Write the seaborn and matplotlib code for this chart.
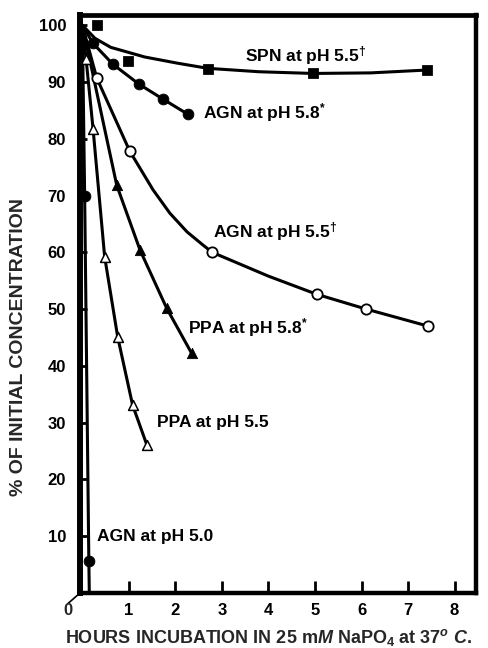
import matplotlib
matplotlib.use("Agg")
import matplotlib.pyplot as plt
import seaborn as sns

# hours of incubation vs % of initial concentration
spn_x = [0.31, 0.98, 2.7, 4.96, 7.4]
spn_y = [100, 93.7, 92.3, 91.5, 92.1]
spn_fit_x = [0, 0.27, 0.61, 1.34, 2.05, 2.7, 3.8, 4.96, 6.2, 7.4]
spn_fit_y = [100, 97.7, 96.1, 94.4, 93.3, 92.4, 91.8, 91.5, 91.6, 92.1]

agn58_x = [0.23, 0.66, 1.22, 1.73, 2.27]
agn58_y = [96.8, 93.1, 89.6, 87.0, 84.3]

agn55_x = [0.31, 1.02, 2.79, 5.04, 6.1, 7.43]
agn55_y = [90.7, 77.8, 60.0, 52.6, 50.0, 47.0]
agn55_fit_x = [0, 0.31, 1.02, 1.52, 1.88, 2.25, 2.59, 2.79, 4.0, 5.04, 6.1, 7.43]
agn55_fit_y = [100, 90.7, 77.8, 71.0, 66.9, 63.6, 61.3, 60.0, 55.8, 52.6, 50.0, 47.0]

ppa58_x = [0.74, 1.24, 1.81, 2.35]
ppa58_y = [71.8, 60.4, 50.2, 42.2]

ppa55_x = [0.08, 0.23, 0.48, 0.76, 1.08, 1.39]
ppa55_y = [94.1, 81.8, 59.2, 45.1, 33.1, 26.0]

agn50_x = [0.05, 0.14]
agn50_y = [70.0, 5.6]
agn50_line_x = [0, 0.05, 0.14, 0.15]
agn50_line_y = [100, 70.0, 5.6, 0]

x_ticks = [1, 2, 3, 4, 5, 6, 7, 8]
y_ticks = [10, 20, 30, 40, 50, 60, 70, 80, 90, 100]

labels = [r"SPN at pH 5.5$^{\dagger}$", r"AGN at pH 5.8$^{*}$",
          r"AGN at pH 5.5$^{\dagger}$", r"PPA at pH 5.8$^{*}$",
          "PPA at pH 5.5", "AGN at pH 5.0"]
label_x = [3.5, 2.6, 2.8, 2.27, 1.6, 0.31]
label_y = [94.7, 84.7, 63.7, 46.8, 30.0, 9.9]

sns.set_theme(style="white")
plt.rcParams['font.family'] = ['Liberation Sans', 'DejaVu Sans']
plt.rcParams['mathtext.fontset'] = 'custom'
plt.rcParams['mathtext.rm'] = 'Liberation Sans:bold'
plt.rcParams['mathtext.bf'] = 'Liberation Sans:bold'
plt.rcParams['mathtext.it'] = 'Liberation Sans:italic:bold'

fig = plt.figure(figsize=(4.89, 6.48), dpi=100)
ax = fig.add_axes([0.1636, 0.0849, 0.8098, 0.892])

lw = 2.2
# curves first
for cx, cy in [(spn_fit_x, spn_fit_y), ([0] + agn58_x, [100] + agn58_y),
               (agn55_fit_x, agn55_fit_y), ([0] + ppa58_x, [100] + ppa58_y),
               ([0] + ppa55_x, [100] + ppa55_y), (agn50_line_x, agn50_line_y)]:
    sns.lineplot(x=cx, y=cy, sort=False, estimator=None, color='black',
                 lw=lw, ax=ax, zorder=2)

# markers
sns.scatterplot(x=spn_x, y=spn_y, marker='s', s=48, color='black',
                edgecolor='black', ax=ax, zorder=3, clip_on=False)
sns.scatterplot(x=agn58_x + agn50_x, y=agn58_y + agn50_y, marker='o', s=60,
                color='black', edgecolor='black', ax=ax, zorder=3)
sns.scatterplot(x=agn55_x, y=agn55_y, marker='o', s=55, color='white',
                edgecolor='black', linewidth=1.3, ax=ax, zorder=3)
sns.scatterplot(x=ppa58_x, y=ppa58_y, marker='^', s=55, color='black',
                edgecolor='black', ax=ax, zorder=3)
sns.scatterplot(x=ppa55_x, y=ppa55_y, marker='^', s=50, color='white',
                edgecolor='black', linewidth=1.1, ax=ax, zorder=3)

for t, tx, ty in zip(labels, label_x, label_y):
    ax.text(tx, ty, t, fontsize=12.5, fontweight='bold', va='center',
            ha='left', color='black')

ax.set_xlim(-0.05, 8.46)
ax.set_ylim(0, 101.8)
ax.set_xticks(x_ticks)
ax.set_yticks(y_ticks)
ax.set_xticklabels([str(v) for v in x_ticks], fontsize=12, fontweight='bold')
ax.set_yticklabels([str(v) for v in y_ticks], fontsize=12, fontweight='bold')
ax.tick_params(axis='x', direction='in', length=9, width=2, pad=7,
               colors='black', bottom=True)
ax.tick_params(axis='y', direction='in', length=5, width=2, pad=10,
               colors='black', left=True)

for side, w in [('left', 4.3), ('bottom', 3.2), ('top', 3.4), ('right', 3.2)]:
    ax.spines[side].set_linewidth(w)
    ax.spines[side].set_color('black')
    ax.spines[side].set_visible(True)

# origin label with its little diagonal stroke
ax.text(-0.02, -0.018, "0", transform=ax.transAxes, fontsize=12,
        fontweight='bold', ha='right', va='top')
ax.plot([-0.03, 0.0], [-0.018, 0.0], transform=ax.transAxes, color='black',
        lw=1.2, clip_on=False)

ax.set_ylabel("% OF INITIAL CONCENTRATION", fontsize=14, fontweight='bold')
ax.yaxis.set_label_coords(-0.134, 0.425)
ax.set_xlabel(r"HOURS INCUBATION IN 25 m$\mathit{M}$ NaPO$_{4}$ at 37$^{o}$ $\mathit{C.}$",
              fontsize=13, fontweight='bold')
ax.xaxis.set_label_coords(0.477, -0.059)

fig.savefig("out.png", dpi=100)
